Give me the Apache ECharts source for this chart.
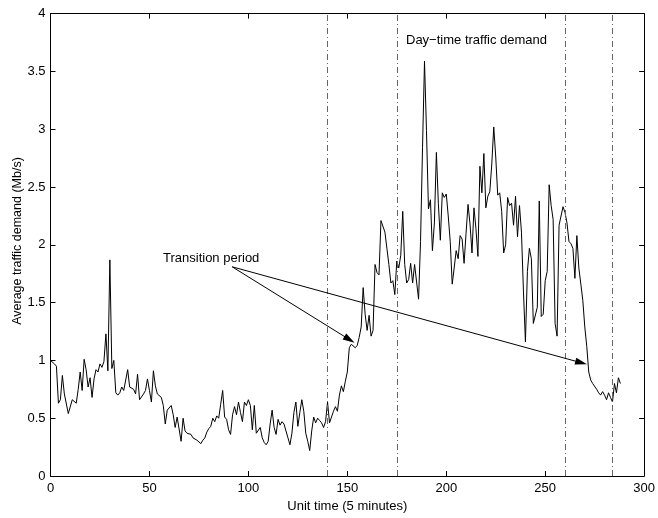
<!DOCTYPE html>
<html>
<head>
<meta charset="utf-8">
<script src="https://cdn.jsdelivr.net/npm/echarts@6/dist/echarts.min.js"></script>
<style>
html,body{margin:0;padding:0;background:#fff;}
#chart{width:658px;height:518px;}
</style>
</head>
<body>
<div id="chart"></div>
<script>
// Average traffic demand (Mb/s), one value per 5-minute unit, starting at unit 0
var demand = [
1.00,0.99,0.97,0.95,0.63,0.66,0.87,0.71,0.70,0.54,
0.53,0.66,0.67,0.63,0.75,0.90,0.74,1.01,0.92,0.77,
0.85,0.68,0.84,0.92,0.90,0.97,0.94,0.99,1.23,0.91,
1.87,0.93,1.00,0.72,0.70,0.72,0.77,0.74,0.75,0.92,
0.77,0.77,0.75,0.71,0.88,0.66,0.67,0.71,0.74,0.84,
0.74,0.64,0.91,0.78,0.71,0.71,0.68,0.61,0.45,0.57,
0.58,0.61,0.53,0.42,0.51,0.50,0.30,0.50,0.39,0.37,
0.37,0.36,0.33,0.32,0.31,0.32,0.28,0.31,0.33,0.38,
0.41,0.43,0.50,0.47,0.52,0.50,0.62,0.74,0.51,0.49,
0.40,0.36,0.53,0.60,0.53,0.64,0.55,0.47,0.64,0.61,
0.66,0.61,0.40,0.61,0.37,0.36,0.42,0.33,0.29,0.27,
0.30,0.45,0.57,0.42,0.36,0.49,0.44,0.47,0.45,0.44,
0.33,0.27,0.37,0.55,0.64,0.43,0.55,0.66,0.56,0.37,
0.30,0.22,0.39,0.51,0.46,0.50,0.48,0.46,0.42,0.47,
0.64,0.46,0.47,0.56,0.60,0.56,0.70,0.78,0.73,0.82,
0.90,1.11,1.14,1.15,1.11,1.13,1.20,1.29,1.63,1.40,
1.26,1.39,1.21,1.26,1.83,1.76,1.74,2.21,2.21,2.11,
1.97,1.83,1.67,1.69,1.57,1.86,1.80,1.91,2.29,1.83,
1.67,1.70,1.84,1.67,1.83,1.83,1.53,2.03,2.84,3.59,
2.99,2.31,2.39,1.95,2.19,2.80,2.36,2.04,2.45,2.41,
2.44,2.25,2.03,1.66,1.80,1.95,1.88,2.08,2.05,1.84,
2.10,2.35,2.18,1.93,2.32,2.14,1.90,2.68,2.45,2.79,
2.32,2.42,2.46,2.70,3.02,2.76,2.43,2.45,2.29,1.93,
2.00,2.41,2.34,2.36,2.17,2.42,2.07,2.34,2.11,1.60,
1.16,1.77,1.97,1.88,1.32,1.32,1.46,2.38,1.38,1.40,
1.69,1.77,2.52,2.34,2.22,1.32,1.21,2.17,2.17,2.33,
2.28,2.19,2.03,2.01,1.97,1.71,2.08,1.80,1.66,1.52,
1.29,1.12,0.90,0.83,0.80,0.80,0.75,0.72,0.70,0.73,
0.70,0.66,0.72,0.68,0.64,0.80,0.72,0.85,0.80
];
var periodLines = [140, 175, 260, 284];
var xTicks = [0, 50, 100, 150, 200, 250, 300];
var yTicks = [0, 0.5, 1, 1.5, 2, 2.5, 3, 3.5, 4];
var arrowFrom = [91.8, 1.81];
var arrowTargets = [[151.1, 1.18], [268.2, 0.98]];

var seriesData = demand.map(function (v, i) { return [i, v]; });
var font = 'Liberation Sans, Arial, Helvetica, sans-serif';
var axisColor = '#000';

var chart = echarts.init(document.getElementById('chart'), null, {renderer: 'canvas'});
var baseX = {
  type: 'value', min: xTicks[0], max: xTicks[xTicks.length - 1], interval: 50,
  axisLine: {show: true, onZero: false, lineStyle: {color: axisColor, width: 1}},
  axisTick: {show: true, inside: true, length: 5, lineStyle: {color: axisColor}},
  splitLine: {show: false}
};
var baseY = {
  type: 'value', min: yTicks[0], max: yTicks[yTicks.length - 1], interval: 0.5,
  axisLine: {show: true, onZero: false, lineStyle: {color: axisColor, width: 1}},
  axisTick: {show: true, inside: true, length: 5, lineStyle: {color: axisColor}},
  splitLine: {show: false}
};
chart.setOption({
  animation: false,
  backgroundColor: '#fff',
  textStyle: {fontFamily: font},
  grid: {left: 50.5, right: 11.3, top: 13.7, bottom: 32.3, containLabel: false},
  xAxis: [
    Object.assign({}, baseX, {
      position: 'bottom',
      name: 'Unit time (5 minutes)', nameLocation: 'middle', nameGap: 24,
      nameTextStyle: {fontSize: 13, color: '#000', fontFamily: font, verticalAlign: 'top'},
      axisLabel: {show: true, margin: 6, fontSize: 13, color: '#000', fontFamily: font}
    }),
    Object.assign({}, baseX, {position: 'top', axisLabel: {show: false}})
  ],
  yAxis: [
    Object.assign({}, baseY, {
      position: 'left',
      axisLabel: {show: true, margin: 5, fontSize: 13, color: '#000', fontFamily: font}
    }),
    Object.assign({}, baseY, {position: 'right', axisLabel: {show: false}})
  ],
  series: [
    {
      type: 'line', data: seriesData, xAxisIndex: 0, yAxisIndex: 0,
      symbol: 'none', lineStyle: {color: '#000', width: 1}, z: 3,
      markLine: {
        silent: true, symbol: ['none', 'none'], label: {show: false},
        lineStyle: {color: '#666', width: 1, type: [6, 3, 1, 3]},
        data: periodLines.map(function (x) { return {xAxis: x}; })
      }
    },
    {
      type: 'line', data: [], xAxisIndex: 0, yAxisIndex: 0, symbol: 'none',
      markLine: {
        silent: true, symbol: ['none', 'triangle'], symbolSize: [7, 12], symbolOffset: [0, 0],
        label: {show: false},
        lineStyle: {color: '#000', width: 1, type: 'solid'},
        itemStyle: {color: '#000'},
        data: arrowTargets.map(function (t) {
          return [{coord: arrowFrom}, {coord: t}];
        })
      }
    }
  ],
  graphic: [
    {type: 'text', x: 18, y: 241, rotation: Math.PI / 2,
     style: {text: 'Average traffic demand (Mb/s)', font: '12.5px ' + font, fill: '#000', align: 'center', verticalAlign: 'middle'}},
    {type: 'text', left: 163, top: 252, style: {text: 'Transition period', font: '13px ' + font, fill: '#000'}},
    {type: 'text', left: 406, top: 34, style: {text: 'Day\u2212time traffic demand', font: '13px ' + font, fill: '#000'}}
  ]
});
</script>
</body>
</html>
